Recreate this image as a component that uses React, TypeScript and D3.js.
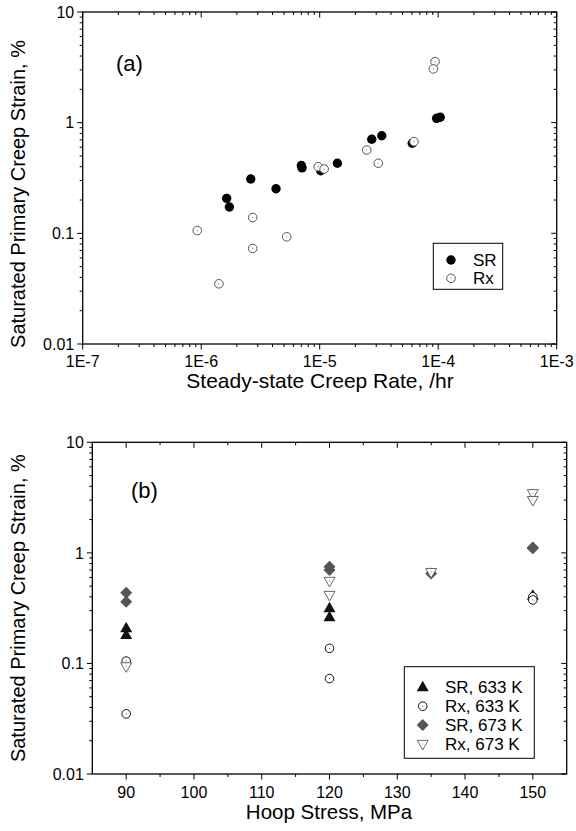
import React from "react";
import * as d3 from "d3";

// ---------- Panel (a) data ----------
const srRate = [9.7e-5, 1.04e-4, 2.75e-5, 3.34e-5, 6.04e-5, 7.0e-6, 7.1e-6, 1.02e-5, 1.41e-5, 2.62e-6, 1.64e-6, 1.73e-6, 4.28e-6];
const srStrain = [1.095, 1.12, 0.708, 0.762, 0.651, 0.41, 0.39, 0.368, 0.43, 0.31, 0.207, 0.173, 0.253];
const rxRate = [9.4e-5, 9.1e-5, 2.49e-5, 3.12e-5, 6.25e-5, 9.7e-6, 1.09e-5, 2.72e-6, 9.27e-7, 5.27e-6, 2.72e-6, 1.41e-6];
const rxStrain = [3.56, 3.06, 0.566, 0.43, 0.673, 0.4, 0.381, 0.139, 0.106, 0.093, 0.073, 0.035];

// ---------- Panel (b) data ----------
const sr633Stress = [90, 90, 120, 120, 150];
const sr633Strain = [0.208, 0.181, 0.315, 0.262, 0.41];
const rx633Stress = [90, 90, 120, 120, 150, 150];
const rx633Strain = [0.105, 0.035, 0.137, 0.073, 0.4, 0.375];
const sr673Stress = [90, 90, 120, 120, 135, 150, 150];
const sr673Strain = [0.436, 0.362, 0.75, 0.7, 0.65, 1.1, 1.12];
const rx673Stress = [90, 120, 120, 135, 150, 150];
const rx673Strain = [0.094, 0.557, 0.416, 0.67, 3.46, 3.0];

const rateTicks = [1e-7, 1e-6, 1e-5, 1e-4, 1e-3];
const rateTickLabels = ["1E-7", "1E-6", "1E-5", "1E-4", "1E-3"];
const strainTicks = [0.01, 0.1, 1, 10];
const strainTickLabels = ["0.01", "0.1", "1", "10"];
const stressTicks = [90, 100, 110, 120, 130, 140, 150];

const FONT = "Liberation Sans, Arial, sans-serif";

function logMinor(lo: number, hi: number) {
  const out: number[] = [];
  for (let e = Math.round(Math.log10(lo)); e < Math.round(Math.log10(hi)); e++) {
    for (let k = 2; k <= 9; k++) out.push(k * Math.pow(10, e));
  }
  return out;
}

const circlePath = (r: number) => d3.symbol(d3.symbolCircle, Math.PI * r * r)() as string;

function triUp(s: number) {
  const h = s * 0.87;
  return `M0,${-h * 0.62}L${s / 2},${h * 0.38}L${-s / 2},${h * 0.38}Z`;
}
function triDown(s: number) {
  const h = s * 0.87;
  return `M0,${h * 0.62}L${s / 2},${-h * 0.38}L${-s / 2},${-h * 0.38}Z`;
}
function diamond(s: number) {
  const a = s / 2;
  return `M0,${-a}L${a},0L0,${a}L${-a},0Z`;
}

function MarkerShape({ kind, x, y }: { kind: string; x: number; y: number }) {
  const t = `translate(${x},${y})`;
  switch (kind) {
    case "fillCircle":
      return <path d={circlePath(4.7)} transform={t} fill="#000" />;
    case "openCircleGray":
      return (
        <g transform={t}>
          <path d={circlePath(4.3)} fill="#fff" stroke="#555" strokeWidth={1} />
          <circle r={0.6} fill="#777" />
        </g>
      );
    case "openCircle":
      return (
        <g transform={t}>
          <path d={circlePath(4.3)} fill="#fff" stroke="#111" strokeWidth={1} />
          <circle r={0.6} fill="#555" />
        </g>
      );
    case "triUp":
      return <path d={triUp(12)} transform={t} fill="#111" />;
    case "diamond":
      return <path d={diamond(12)} transform={t} fill="#555" />;
    case "triDown":
      return (
        <g transform={t}>
          <path d={triDown(11)} fill="#fff" stroke="#666" strokeWidth={1} />
          <circle r={0.6} fill="#888" />
        </g>
      );
  }
  return null;
}

function Frame({ x0, x1, y0, y1 }: { x0: number; x1: number; y0: number; y1: number }) {
  return <rect x={x0} y={y1} width={x1 - x0} height={y0 - y1} fill="none" stroke="#000" strokeWidth={1.3} />;
}

export default function App() {
  // Panel (a)
  const xA = d3.scaleLog().domain([1e-7, 1e-3]).range([82.7, 556.7]);
  const yA = d3.scaleLog().domain([0.01, 10]).range([344, 12]);
  // Panel (b)
  const xB = d3.scaleLinear().domain([85, 155]).range([92.3, 566.7]);
  const yB = d3.scaleLog().domain([0.01, 10]).range([774, 442.3]);

  const major = 5.5;
  const minor = 3;

  const rateMinor = logMinor(1e-7, 1e-3);
  const strainMinor = logMinor(0.01, 10);
  const stressMinor = d3.range(95, 155, 10);

  const yAxisTicks = (
    y: d3.ScaleLogarithmic<number, number>,
    xl: number,
    xr: number,
    key: string
  ) => (
    <g key={key}>
      {strainTicks.map((v, i) => (
        <g key={"M" + i}>
          <line x1={xl - major} x2={xl} y1={y(v)} y2={y(v)} stroke="#000" strokeWidth={1} />
          <line x1={xr - major} x2={xr} y1={y(v)} y2={y(v)} stroke="#000" strokeWidth={1} />
          <text x={xl - major - 3} y={y(v)} dy="0.36em" textAnchor="end" fontSize={16} fontFamily={FONT}>
            {strainTickLabels[i]}
          </text>
        </g>
      ))}
      {strainMinor.map((v, i) => (
        <g key={"m" + i}>
          <line x1={xl - minor} x2={xl} y1={y(v)} y2={y(v)} stroke="#000" strokeWidth={1} />
          <line x1={xr - minor} x2={xr} y1={y(v)} y2={y(v)} stroke="#000" strokeWidth={1} />
        </g>
      ))}
    </g>
  );

  const bottomA = yA.range()[0];
  const topA = yA.range()[1];
  const bottomB = yB.range()[0];
  const topB = yB.range()[1];

  const seriesA = [
    { xs: srRate, ys: srStrain, kind: "fillCircle" },
    { xs: rxRate, ys: rxStrain, kind: "openCircleGray" },
  ];
  const seriesB = [
    { xs: sr633Stress, ys: sr633Strain, kind: "triUp", label: "SR, 633 K" },
    { xs: rx633Stress, ys: rx633Strain, kind: "openCircle", label: "Rx, 633 K" },
    { xs: sr673Stress, ys: sr673Strain, kind: "diamond", label: "SR, 673 K" },
    { xs: rx673Stress, ys: rx673Strain, kind: "triDown", label: "Rx, 673 K" },
  ];

  return (
    <svg width={576} height={831} style={{ position: "absolute", left: 0, top: 0, background: "#fff" }}>
      <rect width={576} height={831} fill="#fff" />
      {/* ===== Panel (a) ===== */}
      <Frame x0={xA.range()[0]} x1={xA.range()[1]} y0={bottomA} y1={topA} />
      {yAxisTicks(yA, xA.range()[0], xA.range()[1], "ya")}
      {rateTicks.map((v, i) => (
        <g key={"ra" + i}>
          <line x1={xA(v)} x2={xA(v)} y1={bottomA} y2={bottomA + major} stroke="#000" />
          <line x1={xA(v)} x2={xA(v)} y1={topA} y2={topA + major} stroke="#000" />
          <text x={xA(v)} y={367} textAnchor="middle" fontSize={16} fontFamily={FONT}>
            {rateTickLabels[i]}
          </text>
        </g>
      ))}
      {rateMinor.map((v, i) => (
        <g key={"rm" + i}>
          <line x1={xA(v)} x2={xA(v)} y1={bottomA} y2={bottomA + minor} stroke="#000" />
          <line x1={xA(v)} x2={xA(v)} y1={topA} y2={topA + minor} stroke="#000" />
        </g>
      ))}
      <text x={320} y={388} textAnchor="middle" fontSize={21} fontFamily={FONT}>
        Steady-state Creep Rate, /hr
      </text>
      <text
        transform={`translate(25,${(bottomA + topA) / 2 + 16}) rotate(-90)`}
        textAnchor="middle"
        fontSize={20}
        fontFamily={FONT}
      >
        Saturated Primary Creep Strain, %
      </text>
      <text x={116} y={71} fontSize={22} fontFamily={FONT}>
        (a)
      </text>
      {seriesA.map((s, si) =>
        s.xs.map((xv, i) => <MarkerShape key={`a${si}-${i}`} kind={s.kind} x={xA(xv)} y={yA(s.ys[i])} />)
      )}
      {/* legend (a) */}
      <rect x={433.3} y={243.3} width={69.4} height={46} fill="#fff" stroke="#000" strokeWidth={1} />
      <MarkerShape kind="fillCircle" x={451} y={260} />
      <text x={473} y={260} dy="0.36em" fontSize={17} fontFamily={FONT}>SR</text>
      <MarkerShape kind="openCircleGray" x={451} y={278.3} />
      <text x={473} y={278.3} dy="0.36em" fontSize={17} fontFamily={FONT}>Rx</text>

      {/* ===== Panel (b) ===== */}
      <Frame x0={xB.range()[0]} x1={xB.range()[1]} y0={bottomB} y1={topB} />
      {yAxisTicks(yB, xB.range()[0], xB.range()[1], "yb")}
      {stressTicks.map((v, i) => (
        <g key={"sb" + i}>
          <line x1={xB(v)} x2={xB(v)} y1={bottomB} y2={bottomB + major} stroke="#000" />
          <line x1={xB(v)} x2={xB(v)} y1={topB} y2={topB + major} stroke="#000" />
          <text x={xB(v)} y={798} textAnchor="middle" fontSize={16} fontFamily={FONT}>
            {String(v)}
          </text>
        </g>
      ))}
      {stressMinor.map((v, i) => (
        <g key={"sm" + i}>
          <line x1={xB(v)} x2={xB(v)} y1={bottomB} y2={bottomB + minor} stroke="#000" />
          <line x1={xB(v)} x2={xB(v)} y1={topB} y2={topB + minor} stroke="#000" />
        </g>
      ))}
      <text x={329} y={819} textAnchor="middle" fontSize={20.5} fontFamily={FONT}>
        Hoop Stress, MPa
      </text>
      <text
        transform={`translate(25,${(bottomB + topB) / 2 + 0}) rotate(-90)`}
        textAnchor="middle"
        fontSize={20}
        fontFamily={FONT}
      >
        Saturated Primary Creep Strain, %
      </text>
      <text x={131} y={498} fontSize={22} fontFamily={FONT}>
        (b)
      </text>
      {seriesB.map((s, si) =>
        s.xs.map((xv, i) => <MarkerShape key={`b${si}-${i}`} kind={s.kind} x={xB(xv)} y={yB(s.ys[i])} />)
      )}
      {/* legend (b) */}
      <rect x={404.3} y={666.7} width={130} height={91.6} fill="#fff" stroke="#000" strokeWidth={1} />
      {seriesB.map((s, i) => (
        <g key={"lb" + i}>
          <MarkerShape kind={s.kind} x={422.7} y={687.3 + i * 18.9} />
          <text x={445} y={687.3 + i * 18.9} dy="0.36em" fontSize={17} fontFamily={FONT}>
            {s.label}
          </text>
        </g>
      ))}
    </svg>
  );
}
